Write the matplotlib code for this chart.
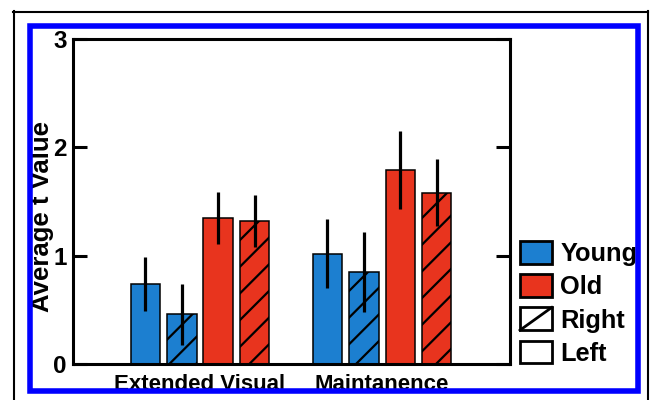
import matplotlib
matplotlib.use("Agg")
import matplotlib.pyplot as plt
import numpy as np
from matplotlib.patches import Rectangle, Patch
from matplotlib.lines import Line2D
from matplotlib.legend_handler import HandlerBase

# ---- data ----
categories = ["Extended Visual", "Maintanence"]
series_labels = ["Young Left", "Young Right", "Old Left", "Old Right"]
young_left = [0.74, 1.02]
young_left_err = [0.25, 0.32]
young_right = [0.46, 0.85]
young_right_err = [0.28, 0.37]
old_left = [1.35, 1.79]
old_left_err = [0.24, 0.36]
old_right = [1.32, 1.58]
old_right_err = [0.24, 0.31]
yticks = [0, 1, 2, 3]
legend_labels = ["Young", "Old", "Right", "Left"]

BLUE = "#1C7FD0"
RED = "#E8341E"

DPI = 80
K = 100 / DPI  # keep pixel sizes as if designed at 100 dpi

plt.rcParams['font.family'] = ['Liberation Sans', 'DejaVu Sans']
plt.rcParams['font.weight'] = 'bold'
plt.rcParams['hatch.linewidth'] = 1.6 * K
plt.rcParams['hatch.color'] = 'black'

W, H = 650, 400
fig = plt.figure(figsize=(W / DPI, H / DPI), dpi=DPI)

def fx(px):
    return px / W

def fy(py):
    return 1 - py / H

ax_l, ax_r, ax_t, ax_b = 73, 510, 39, 364
ax = fig.add_axes([fx(ax_l), fy(ax_b), fx(ax_r - ax_l), (ax_b - ax_t) / H])

x = np.arange(len(categories))
step = 0.2
width = 0.162
series = [
    (young_left, young_left_err, BLUE, None),
    (young_right, young_right_err, BLUE, '/'),
    (old_left, old_left_err, RED, None),
    (old_right, old_right_err, RED, '/'),
]
for i, (vals, errs, col, hatch) in enumerate(series):
    pos = x + (i - 1.5) * step
    ax.bar(pos, vals, width=width, color=col, edgecolor='black', linewidth=1.1 * K,
           hatch=hatch, zorder=2)
    ax.errorbar(pos, vals, yerr=errs, fmt='none', ecolor='black',
                elinewidth=2.3 * K, capsize=0, zorder=3)

ax.set_xlim(-0.698, 1.703)
ax.set_ylim(0, 3)
ax.set_yticks(yticks)
ax.set_yticklabels([str(t) for t in yticks], fontsize=17.5 * K, fontweight='bold')
ax.set_xticks(x)
ax.set_xticklabels(categories, fontsize=16 * K, fontweight='bold')
ax.tick_params(axis='x', length=0, pad=7 * K)
ax.tick_params(axis='y', direction='in', length=10 * K, width=2.2 * K, pad=4.5 * K,
               right=True, left=True)
for s in ax.spines.values():
    s.set_linewidth(2.2 * K)

fig.text(fx(42), fy(216.5), "Average t Value", rotation=90, ha='center',
         va='center', fontsize=18.5 * K, fontweight='bold')


class DiagHandler(HandlerBase):
    def create_artists(self, legend, orig_handle, xdescent, ydescent, width,
                       height, fontsize, trans):
        r = Rectangle((-xdescent, -ydescent), width, height, facecolor='white',
                      edgecolor='black', lw=2 * K, transform=trans)
        ln = Line2D([-xdescent, -xdescent + width], [-ydescent, -ydescent + height],
                    color='black', lw=2 * K, transform=trans)
        return [r, ln]


handles = [
    Patch(facecolor=BLUE, edgecolor='black', linewidth=2 * K),
    Patch(facecolor=RED, edgecolor='black', linewidth=2 * K),
    Patch(facecolor='white', edgecolor='black', linewidth=2 * K),
    Patch(facecolor='white', edgecolor='black', linewidth=2 * K),
]
leg = ax.legend(handles, legend_labels, loc='upper left',
                bbox_to_anchor=(fx(520), fy(241)), bbox_transform=fig.transFigure,
                frameon=False, fontsize=18.3 * K, handlelength=1.25, handleheight=1.0,
                handletextpad=0.33, labelspacing=0.32, borderpad=0,
                borderaxespad=0, handler_map={handles[2]: DiagHandler()})
for t in leg.get_texts():
    t.set_fontweight('bold')

# white masks outside blue frame (clipping)
masks = [
    (0, 0, 27, H), (640, 0, W - 640, H), (0, 0, W, 23), (0, 393, W, H - 393)
]
for (mx, my, mw, mh) in masks:
    fig.patches.append(Rectangle((fx(mx), fy(my + mh)), mw / W, mh / H,
                                 transform=fig.transFigure, facecolor='white',
                                 edgecolor='none', zorder=10))
# blue frame
fig.patches.append(Rectangle((fx(29.5), fy(390.5)), (637.5 - 29.5) / W, (390.5 - 26) / H,
                             transform=fig.transFigure, facecolor='none',
                             edgecolor='#0000FF', linewidth=4.0 * K, zorder=11))
# outer black border
for xs, ys in [([13.5, 13.5], [11, 400]), ([13, 648], [11.5, 11.5]), ([648, 648], [11, 400])]:
    fig.lines.append(Line2D([fx(v) for v in xs], [fy(v) for v in ys],
                            transform=fig.transFigure, color='black',
                            linewidth=1.5 * K, zorder=12))

fig.savefig("out.png", dpi=DPI)
